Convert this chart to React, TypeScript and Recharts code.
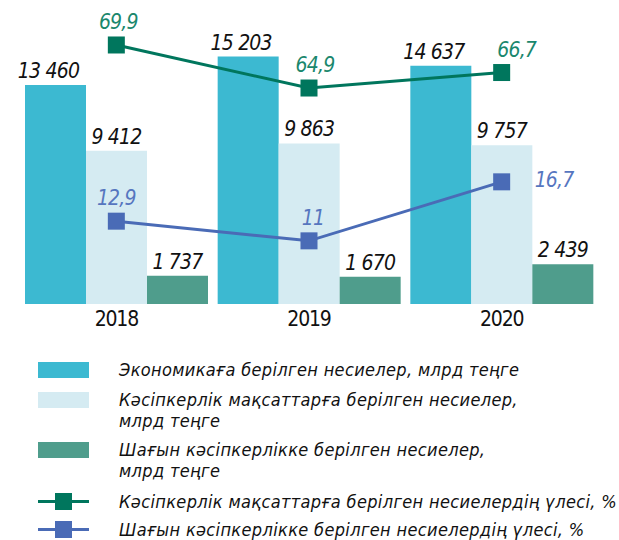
import { ComposedChart, Bar, Line, XAxis, YAxis, LabelList } from 'recharts';

const years = ['2018', '2019', '2020'];
const economyLoans = [13460, 15203, 14637];
const businessLoans = [9412, 9863, 9757];
const smallBusinessLoans = [1737, 1670, 2439];
const businessShare = [69.9, 64.9, 66.7];
const smallBusinessShare = [12.9, 11, 16.7];

const legendLabels = [
  'Экономикаға берілген несиелер, млрд теңге',
  'Кәсіпкерлік мақсаттарға берілген несиелер,\nмлрд теңге',
  'Шағын кәсіпкерлікке берілген несиелер,\nмлрд теңге',
  'Кәсіпкерлік мақсаттарға берілген несиелердің үлесі, %',
  'Шағын кәсіпкерлікке берілген несиелердің үлесі, %',
];

const data = years.map((year, i) => ({
  year,
  economy: economyLoans[i],
  business: businessLoans[i],
  small: smallBusinessLoans[i],
  businessShare: businessShare[i],
  smallShare: smallBusinessShare[i],
}));

const COLORS = {
  economy: '#3cb9d1',
  business: '#d5ebf2',
  small: '#4f9d8c',
  greenLine: '#00765d',
  greenText: '#1a876d',
  blueLine: '#4a6bb6',
  blueText: '#5676bf',
};

const COND = "'DejaVu Sans Condensed', 'DejaVu Sans', sans-serif";

const fmtThousands = (v: number) => String(v).replace(/\B(?=(\d{3})+(?!\d))/g, ' ');
const fmtPct = (v: number) => String(v).replace('.', ',');

function barLabel(dx: number) {
  return (props: any) => {
    const { x, y, width, value } = props;
    return (
      <text
        x={x + width / 2 + dx}
        y={y - 7}
        textAnchor="middle"
        fontFamily={COND}
        fontStyle="italic"
        fontSize={21}
        letterSpacing={-0.8}
        fill="#111"
      >
        {fmtThousands(value)}
      </text>
    );
  };
}

// label placement relative to each marker
const greenDx = [2, 6, 15];
const blueDx = [0, 4, 0];

function lineLabel(color: string, dxs: number[], rightOfLast: boolean) {
  return (props: any) => {
    const { x, y, value, index } = props;
    const common = {
      fontFamily: COND,
      fontStyle: 'italic',
      fontSize: 21,
      letterSpacing: -0.8,
      fill: color,
    };
    if (rightOfLast && index === 2) {
      return (
        <text x={x + 33} y={y + 5} textAnchor="start" {...common}>
          {fmtPct(value)}
        </text>
      );
    }
    return (
      <text x={x + dxs[index]} y={y - 16} textAnchor="middle" {...common}>
        {fmtPct(value)}
      </text>
    );
  };
}

function squareDot(color: string) {
  return (props: any) => {
    const { cx, cy, index } = props;
    return <rect key={index} x={cx - 8.5} y={cy - 8.5} width={17} height={17} fill={color} />;
  };
}

function Swatch({ kind }: { kind: number }) {
  if (kind < 3) {
    const fill = [COLORS.economy, COLORS.business, COLORS.small][kind];
    return <div style={{ width: 51, height: 16, background: fill, marginTop: 3 }} />;
  }
  const c = kind === 3 ? COLORS.greenLine : COLORS.blueLine;
  return (
    <div style={{ position: 'relative', width: 51, height: 17, marginTop: 2 }}>
      <div style={{ position: 'absolute', left: 0, right: 0, top: 7, height: 3, background: c }} />
      <div style={{ position: 'absolute', left: 17, top: 0, width: 17, height: 17, background: c }} />
    </div>
  );
}

const legendTops = [359, 389, 439, 491, 519];

export default function App() {
  return (
    <div style={{ position: 'absolute', left: 0, top: 0, width: 619, height: 540, background: '#fff' }}>
      <ComposedChart
        width={619}
        height={340}
        data={data}
        margin={{ top: 11, right: 21, left: 20, bottom: 6 }}
        barCategoryGap={5}
        barGap={0}
      >
        <XAxis
          dataKey="year"
          axisLine={false}
          tickLine={false}
          height={30}
          tickMargin={1}
          tick={{ fontSize: 21, fill: '#111', fontFamily: COND, letterSpacing: -1.2 }}
        />
        <YAxis yAxisId="loans" hide domain={[0, 18000]} />
        <YAxis yAxisId="business" hide domain={[39.8, 73.85]} />
        <YAxis yAxisId="small" hide domain={[4.9, 33.2]} />
        <Bar yAxisId="loans" dataKey="economy" fill={COLORS.economy} isAnimationActive={false}>
          <LabelList dataKey="economy" content={barLabel(-7)} />
        </Bar>
        <Bar yAxisId="loans" dataKey="business" fill={COLORS.business} isAnimationActive={false}>
          <LabelList dataKey="business" content={barLabel(0)} />
        </Bar>
        <Bar yAxisId="loans" dataKey="small" fill={COLORS.small} isAnimationActive={false}>
          <LabelList dataKey="small" content={barLabel(0)} />
        </Bar>
        <Line
          yAxisId="business"
          type="linear"
          dataKey="businessShare"
          stroke={COLORS.greenLine}
          strokeWidth={3}
          dot={squareDot(COLORS.greenLine)}
          activeDot={false}
          isAnimationActive={false}
        >
          <LabelList dataKey="businessShare" content={lineLabel(COLORS.greenText, greenDx, false)} />
        </Line>
        <Line
          yAxisId="small"
          type="linear"
          dataKey="smallShare"
          stroke={COLORS.blueLine}
          strokeWidth={3}
          dot={squareDot(COLORS.blueLine)}
          activeDot={false}
          isAnimationActive={false}
        >
          <LabelList dataKey="smallShare" content={lineLabel(COLORS.blueText, blueDx, true)} />
        </Line>
      </ComposedChart>
      {legendLabels.map((label, i) => (
        <div
          key={i}
          style={{ position: 'absolute', left: 38, top: legendTops[i], display: 'flex', alignItems: 'flex-start' }}
        >
          <Swatch kind={i} />
          <div
            style={{
              marginLeft: 30,
              fontFamily: COND,
              fontStyle: 'italic',
              fontSize: 18,
              letterSpacing: 0.35,
              lineHeight: '21px',
              color: '#111',
              whiteSpace: 'pre',
            }}
          >
            {label}
          </div>
        </div>
      ))}
    </div>
  );
}
